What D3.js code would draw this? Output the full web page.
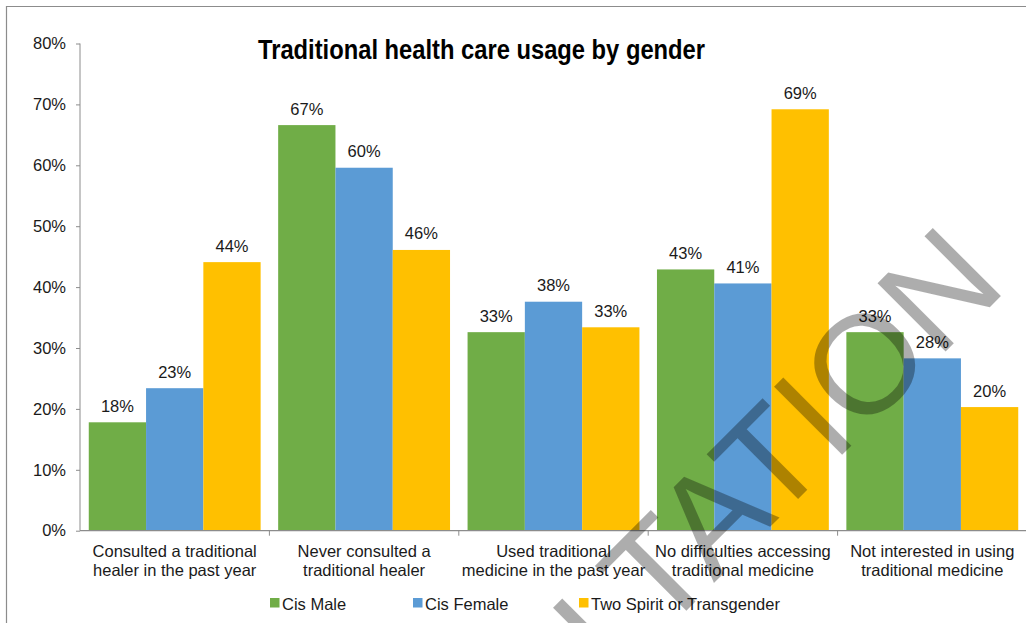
<!DOCTYPE html>
<html>
<head>
<meta charset="utf-8">
<script src="https://cdn.jsdelivr.net/npm/d3@7"></script>
<style>
  html, body { margin: 0; padding: 0; background: #fff; }
  svg { display: block; font-family: "Liberation Sans", Arial, sans-serif; }
</style>
</head>
<body>
<svg id="chart" width="1026" height="623"></svg>
<script>
// Survey categories (two-line axis labels)
const categories = [
  ["Consulted a traditional", "healer in the past year"],
  ["Never consulted a", "traditional healer"],
  ["Used traditional", "medicine in the past year"],
  ["No difficulties accessing", "traditional medicine"],
  ["Not interested in using", "traditional medicine"]
];

const seriesNames = ["Cis Male", "Cis Female", "Two Spirit or Transgender"];
const seriesColors = ["#70AD47", "#5B9BD5", "#FFC000"];

// Share of respondents (%) per category
const cisMale     = [17.8, 66.6, 32.6, 42.9, 32.6];
const cisFemale   = [23.4, 59.6, 37.6, 40.6, 28.3];
const twoSpiritTg = [44.1, 46.1, 33.4, 69.2, 20.3];

const yTicks = [0, 10, 20, 30, 40, 50, 60, 70, 80];

const seriesValues = [cisMale, cisFemale, twoSpiritTg];
const catKeys = categories.map(c => c.join(" "));

const svg = d3.select("#chart");
const W = 1026, H = 623;

const plot = { left: 80, right: 1027, top: 43.5, bottom: 530.7 };

const x = d3.scaleBand().domain(catKeys).range([plot.left, plot.right]).paddingInner(0).paddingOuter(0);
const xs = d3.scaleBand().domain(seriesNames).range([0, x.bandwidth()]).paddingInner(0).paddingOuter(0.153);
const y = d3.scaleLinear().domain([0, 80]).range([plot.bottom, plot.top]);

// Outer frame
svg.append("path")
  .attr("d", `M6.5,${H} V6.5 H${W}`)
  .attr("fill", "none").attr("stroke", "#8c8c8c").attr("stroke-width", 1.2);

// Title
svg.append("text")
  .attr("x", 258).attr("y", 58.5)
  .attr("font-size", 27).attr("font-weight", "bold").attr("fill", "#000")
  .attr("textLength", 447).attr("lengthAdjust", "spacingAndGlyphs")
  .text("Traditional health care usage by gender");

// Bars
const rows = [];
catKeys.forEach((c, i) => {
  seriesNames.forEach((s, j) => rows.push({ cat: c, series: s, j, v: seriesValues[j][i] }));
});

const barG = svg.append("g");
barG.selectAll("rect").data(rows).join("rect")
  .attr("x", d => x(d.cat) + xs(d.series))
  .attr("y", d => y(d.v))
  .attr("width", xs.bandwidth())
  .attr("height", d => y(0) - y(d.v))
  .attr("fill", d => seriesColors[d.j]);

// Value labels
barG.selectAll("text").data(rows).join("text")
  .attr("x", d => x(d.cat) + xs(d.series) + xs.bandwidth() / 2)
  .attr("y", d => y(d.v) - 10.5)
  .attr("text-anchor", "middle")
  .attr("font-size", 16.5).attr("fill", "#1a1a1a")
  .text(d => Math.round(d.v) + "%");

// Y axis
const yAxis = svg.append("g").attr("transform", `translate(${plot.left},0)`)
  .call(d3.axisLeft(y).tickValues(yTicks).tickSize(4).tickPadding(10).tickFormat(d => d + "%"));
yAxis.select(".domain").attr("stroke", "#8c8c8c").attr("d", `M0,${plot.top}V${plot.bottom}`);
yAxis.selectAll(".tick line").attr("stroke", "#8c8c8c");
yAxis.selectAll(".tick text").attr("font-size", 16.5).attr("fill", "#1a1a1a")
  .attr("font-family", "Liberation Sans, Arial, sans-serif");

// X axis
const xAxis = svg.append("g").attr("transform", `translate(0,${plot.bottom})`);
xAxis.append("line")
  .attr("x1", plot.left).attr("x2", plot.right)
  .attr("stroke", "#8c8c8c").attr("stroke-width", 1.2);
xAxis.selectAll("line.tk").data(catKeys.slice(1)).join("line").attr("class", "tk")
  .attr("x1", d => x(d)).attr("x2", d => x(d))
  .attr("y1", 0).attr("y2", 5)
  .attr("stroke", "#8c8c8c");

const labelG = svg.append("g");
categories.forEach((lines, i) => {
  const cx = x(catKeys[i]) + x.bandwidth() / 2;
  const t = labelG.append("text")
    .attr("text-anchor", "middle").attr("font-size", 16.5).attr("fill", "#1a1a1a");
  lines.forEach((ln, k) => t.append("tspan").attr("x", cx).attr("y", 556.5 + k * 19).text(ln));
});

// Legend
const legendX = [270, 413, 579];
const legend = svg.append("g");
seriesNames.forEach((s, j) => {
  legend.append("rect")
    .attr("x", legendX[j]).attr("y", 598).attr("width", 9.5).attr("height", 9.5)
    .attr("fill", seriesColors[j]);
  legend.append("text")
    .attr("x", legendX[j] + 12).attr("y", 610)
    .attr("font-size", 16.5).attr("fill", "#1a1a1a")
    .text(s);
});

// Diagonal watermark
svg.append("text")
  .attr("transform", "translate(1009,288) rotate(-45)")
  .attr("text-anchor", "end")
  .attr("font-size", 140)
  .attr("fill", "#000").attr("fill-opacity", 0.32)
  .text("CONSULTATION");
</script>
</body>
</html>
